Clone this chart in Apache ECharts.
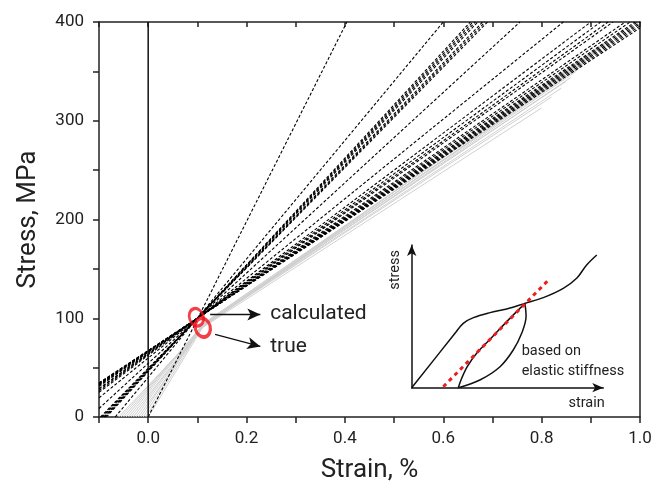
<!DOCTYPE html>
<html><head><meta charset="utf-8">
<script src="https://cdn.jsdelivr.net/npm/echarts@6/dist/echarts.min.js"></script>
<style>html,body{margin:0;padding:0;background:#fff}#c{width:662px;height:488px}</style>
</head><body><div id="c"></div>
<script>
// ---- main chart data (strain %, stress MPa) ----
const xRange = [-0.1, 1.0];
const yRange = [0, 400];
const dashedStart = [[0.0,0],[-0.067,0],[-0.085,0],[-0.087,0],[-0.089,0],[-0.09,0],[-0.093,0],[-0.095,0],[-0.097,0],
  [-0.1,8.6],[-0.1,19.4],[-0.1,25],[-0.1,26.8],[-0.1,28.2],[-0.1,29],[-0.1,31],[-0.1,31.8],[-0.1,32.6],
  [-0.1,33.0],[-0.1,33.4],[-0.1,33.8],[-0.1,34.2],[-0.1,34.6]];
const dashedEnd = [[0.404,400],[0.6,400],[0.655,400],[0.66,400],[0.665,400],[0.67,400],[0.68,400],[0.685,400],[0.69,400],
  [0.756,400],[0.844,400],[0.9,400],[0.92,400],[0.935,400],[0.945,400],[0.97,400],[0.98,400],[0.99,400],
  [0.995,400],[1.0,399.7],[1.0,398],[1.0,396],[1.0,394]];
const grayStartX = [-0.06,-0.055,-0.05,-0.045,-0.04,-0.035,-0.03,-0.025,-0.02,-0.015,-0.01,-0.005,0.0];
const grayMid = [[0.112,91],[0.111,92],[0.11,92],[0.11,93],[0.109,92],[0.11,91],[0.111,93],[0.11,92],[0.112,92],[0.11,94],[0.109,93],[0.11,92],[0.111,91]];
const grayEnd = [[0.80,313],[0.82,324],[0.84,333],[0.85,340],[0.86,344],[0.87,350],[0.88,355],[0.89,360],[0.90,364],[0.91,369],[0.92,374],[0.93,378],[0.94,383]];
const zeroLine = [[0,0],[0,400]];
const circleCalculated = [0.098, 101];
const circleTrue = [0.111, 90.5];
const arrowCalc = [[0.126,103.8],[0.228,103.8]];
const arrowTrue = [[0.136,83.6],[0.228,71.5]];
const labelCalc = [0.248, 104.5, 'calculated'];
const labelTrue = [0.248, 71.5, 'true'];
// ---- inset data (arbitrary units 0-100) ----
const insetLoading = [[0,0],[22.6,38.1],[26.9,45.1],[32.2,49.1],[40.9,52.6],[49.6,55.2],[59.1,59.1],[68.7,63.1],[79.1,69.6],[86.1,76.7],[91.3,86],[96.6,93]];
const insetReload = [[24.3,0],[26.1,6.6],[29.0,14.7],[33.9,24.1],[40.9,33.9],[49.6,46.3],[59.1,59.1]];
const insetUnload = [[59.1,59.1],[59.7,50],[57.4,38.1],[53,26.4],[46.1,14.7],[35.6,5.4],[24.3,0]];
const insetElastic = [[16.5,0.7],[71.8,76]];
const insetTexts = [[57.4,25.2,'based on'],[57.4,11.2,'elastic stiffness']];
const insetXName = [91.3,-10.7,'strain'];
const insetYName = [-8.7,82.5,'stress'];

const FONT = 'Roboto';
const chart = echarts.init(document.getElementById('c'), null, {renderer:'canvas'});
const series = [];
for (let i = 0; i < grayStartX.length; i++) {
  series.push({type:'line', xAxisIndex:0, yAxisIndex:0, data:[[grayStartX[i],0], grayMid[i], grayEnd[i]],
    showSymbol:false, silent:true, z:2, lineStyle:{color:'#d0d0d0', width:1}});
}
for (let i = 0; i < dashedStart.length; i++) {
  series.push({type:'line', xAxisIndex:0, yAxisIndex:0, data:[dashedStart[i], dashedEnd[i]],
    showSymbol:false, silent:true, z:3, lineStyle:{color:'#000', width:1.1, type:[3,2]}});
}
series.push({type:'line', xAxisIndex:0, yAxisIndex:0, data:zeroLine, showSymbol:false, silent:true, z:4,
  lineStyle:{color:'#111', width:1.5}});
series.push({type:'scatter', xAxisIndex:0, yAxisIndex:0, data:[circleCalculated], symbol:'circle', symbolSize:[14,18], symbolRotate:20,
  z:6, silent:true, itemStyle:{color:'rgba(0,0,0,0)', borderColor:'#f0101a', borderWidth:3},
  markLine:{silent:true, symbol:['none','arrow'], symbolSize:[9,13], label:{show:false}, animation:false,
    lineStyle:{color:'#111', width:1.3, type:'solid'},
    data:[[{coord:arrowCalc[0]},{coord:arrowCalc[1]}],[{coord:arrowTrue[0]},{coord:arrowTrue[1]}]]}});
series.push({type:'scatter', xAxisIndex:0, yAxisIndex:0, data:[circleTrue], symbol:'circle', symbolSize:[15,19], symbolRotate:15,
  z:6, silent:true, itemStyle:{color:'rgba(0,0,0,0)', borderColor:'#f0101a', borderWidth:3.5}});
// inset
const insetLine = {type:'line', xAxisIndex:2, yAxisIndex:2, showSymbol:false, silent:true, z:5, smooth:0.35,
  lineStyle:{color:'#111', width:1.5}};
series.push(Object.assign({}, insetLine, {data:insetLoading}));
series.push(Object.assign({}, insetLine, {data:insetReload}));
series.push(Object.assign({}, insetLine, {data:insetUnload}));
series.push({type:'line', xAxisIndex:2, yAxisIndex:2, data:insetElastic, showSymbol:false, silent:true, z:6,
  lineStyle:{color:'#ee1c1c', width:3, type:[4,4]}});

const axisLineStyle = {color:'#222', width:1.5};
const option = {
  animation:false,
  backgroundColor:'#fff',
  grid:[{left:99, right:22, top:22, bottom:69}, {left:411.7, top:245, width:191.6, height:142.7}],
  xAxis:[
    {type:'value', gridIndex:0, min:xRange[0], max:xRange[1], interval:0.1, position:'bottom',
     name:'Strain, %', nameLocation:'middle', nameGap:40, nameTextStyle:{fontFamily:FONT, fontSize:26, color:'#222'},
     axisLine:{show:true, onZero:false, lineStyle:axisLineStyle}, axisTick:{show:true, inside:false, length:6, lineStyle:{color:'#222', width:1.5}},
     axisLabel:{fontFamily:FONT, fontSize:17, color:'#222', margin:13, formatter:function(v){const t=Math.round(v*10);return (t>=0&&t%2===0)?(t/10).toFixed(1):'';}},
     splitLine:{show:false}},
    {type:'value', gridIndex:0, min:xRange[0], max:xRange[1], interval:0.1, position:'top',
     axisLine:{show:true, onZero:false, lineStyle:axisLineStyle}, axisTick:{show:true, inside:true, length:5, lineStyle:{color:'#222', width:1.5}},
     axisLabel:{show:false}, splitLine:{show:false}},
    {type:'value', gridIndex:1, min:0, max:100, axisLine:{show:true, onZero:false, symbol:['none','arrow'], symbolSize:[7,11], lineStyle:{color:'#111', width:1.5}},
     axisTick:{show:false}, axisLabel:{show:false}, splitLine:{show:false}}
  ],
  yAxis:[
    {type:'value', gridIndex:0, min:yRange[0], max:yRange[1], interval:50, position:'left',
     name:'Stress, MPa', nameLocation:'middle', nameGap:58, nameTextStyle:{fontFamily:FONT, fontSize:26, color:'#222'},
     axisLine:{show:true, onZero:false, lineStyle:axisLineStyle}, axisTick:{show:true, inside:false, length:6, lineStyle:{color:'#222', width:1.5}},
     axisLabel:{fontFamily:FONT, fontSize:17, color:'#222', margin:15, formatter:function(v){return v%100===0?String(v):'';}},
     splitLine:{show:false}},
    {type:'value', gridIndex:0, min:yRange[0], max:yRange[1], interval:50, position:'right',
     axisLine:{show:true, onZero:false, lineStyle:axisLineStyle}, axisTick:{show:false}, axisLabel:{show:false}, splitLine:{show:false}},
    {type:'value', gridIndex:1, min:0, max:100, axisLine:{show:true, onZero:false, symbol:['none','arrow'], symbolSize:[7,11], lineStyle:{color:'#111', width:1.5}},
     axisTick:{show:false}, axisLabel:{show:false}, splitLine:{show:false}}
  ],
  series:series
};
chart.setOption(option);

function px(idx, p){ return chart.convertToPixel({xAxisIndex:idx, yAxisIndex:idx}, [p[0], p[1]]); }
const graphics = [];
[labelCalc, labelTrue].forEach(function(l){
  const p = px(0, l);
  graphics.push({type:'text', x:p[0], y:p[1], silent:true, style:{text:l[2], fontFamily:FONT, fontSize:21, fill:'#222', textAlign:'left', textVerticalAlign:'middle'}});
});
insetTexts.forEach(function(l){
  const p = px(2, l);
  graphics.push({type:'text', x:p[0], y:p[1], silent:true, style:{text:l[2], fontFamily:FONT, fontSize:14.5, fill:'#222', textAlign:'left', textVerticalAlign:'middle'}});
});
(function(){
  const p = px(2, insetXName);
  graphics.push({type:'text', x:p[0], y:p[1], silent:true, style:{text:insetXName[2], fontFamily:FONT, fontSize:14.5, fill:'#222', textAlign:'center', textVerticalAlign:'middle'}});
  const q = px(2, insetYName);
  graphics.push({type:'text', x:q[0], y:q[1], rotation:Math.PI/2, silent:true, style:{text:insetYName[2], fontFamily:FONT, fontSize:14.5, fill:'#222', textAlign:'center', textVerticalAlign:'middle'}});
})();
chart.setOption({graphic:graphics});
</script></body></html>
